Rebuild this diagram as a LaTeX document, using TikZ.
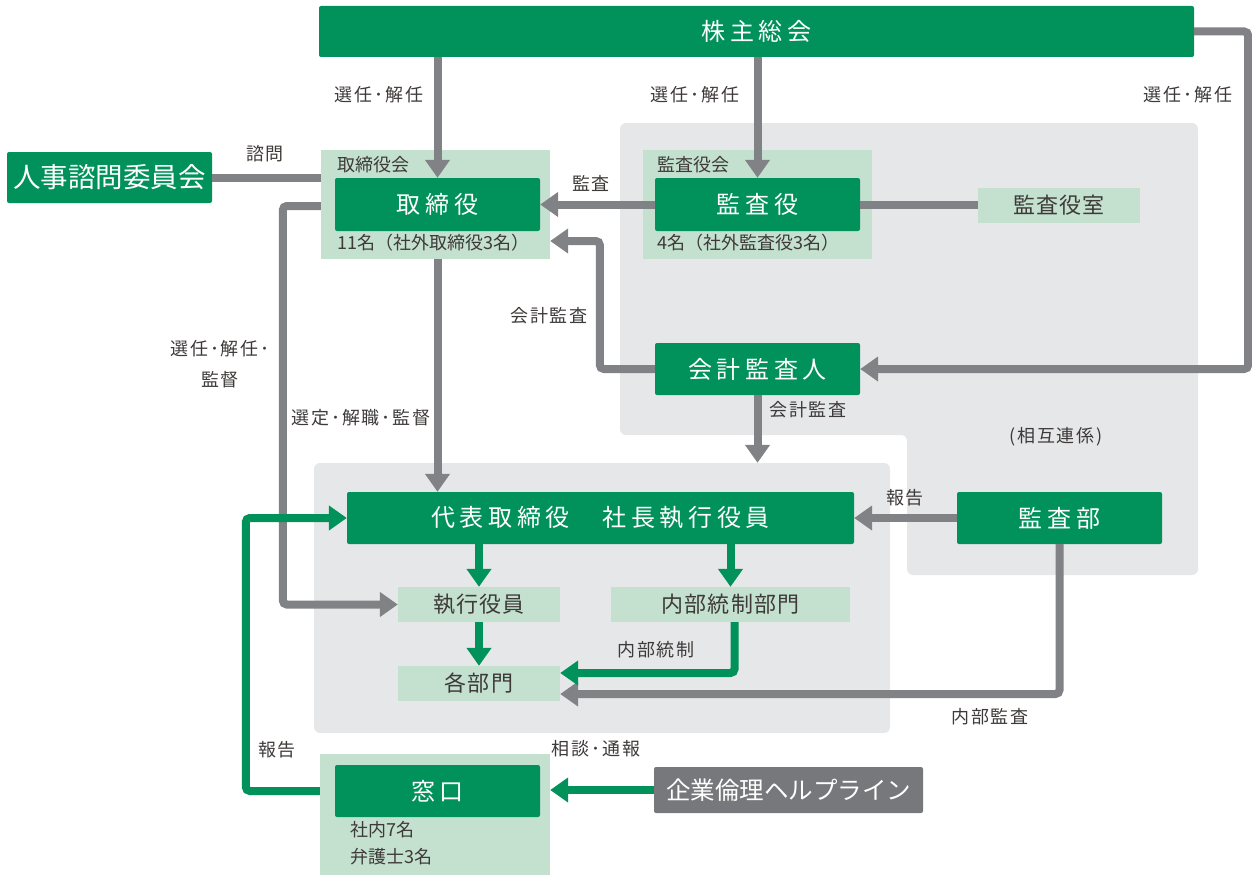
\documentclass[tikz,border=0pt]{standalone}
\usepackage{fontspec}
\setmainfont{Noto Sans CJK JP}
\newfontfamily\spc[LetterSpace=19]{Noto Sans CJK JP}
\newfontfamily\spb[LetterSpace=5]{Noto Sans CJK JP}
\newfontfamily\spl[LetterSpace=10]{Noto Sans CJK JP}
\usetikzlibrary{arrows.meta,calc}
\definecolor{dkg}{HTML}{00925A}
\definecolor{ltg}{HTML}{C4E1CF}
\definecolor{bgg}{HTML}{E6E7E8}
\definecolor{lng}{HTML}{808285}
\definecolor{hlp}{HTML}{77787B}
\definecolor{txt}{HTML}{3E3A39}
\begin{document}
\begin{tikzpicture}[x=1pt,y=-1pt,
  sz/.style 2 args={minimum width=#1, minimum height=#2},
  dk/.style={fill=dkg, text=white, rounded corners=2pt, inner sep=0pt, font=\spc\fontsize{24}{28}\selectfont},
  lt/.style={fill=ltg, text=txt, inner sep=0pt, font=\spb\fontsize{22}{26}\selectfont},
  lbl/.style={text=txt, inner sep=0pt, font=\spl\fontsize{18}{21}\selectfont},
  sub/.style={text=txt, inner sep=0pt, anchor=west, font=\fontsize{18}{21}\selectfont},
  gl/.style={draw=lng, line width=8pt, rounded corners=4pt},
  ga/.style={gl, -{Triangle[width=24pt,length=18pt]}},
  gg/.style={draw=dkg, line width=8pt, rounded corners=4pt, -{Triangle[width=24pt,length=18pt]}}]
\useasboundingbox (0,0) rectangle (1252,875);
% backgrounds
\fill[bgg, rounded corners=6pt] (620,123) -- (1198,123) -- (1198,575) -- (907,575) -- (907,435) -- (620,435) -- cycle;
\node[fill=bgg, rounded corners=6pt, inner sep=0pt, sz={576pt}{270pt}] (opbg) at (602,598) {};
% light boxes
\node[fill=ltg, inner sep=0pt, sz={229pt}{109pt}] (torikai) at (435.5,204.5) {};
\node[fill=ltg, inner sep=0pt, sz={229pt}{109pt}] (kansakai) at (757.5,204.5) {};
\node[fill=ltg, inner sep=0pt, sz={230pt}{121pt}] (madol) at (435,814.5) {};
\node[sub] (t1) at (337,165) {取締役会};
\node[sub] (t2) at (337,243) {11名（社外取締役3名）};
\node[sub] (k1) at (657,165) {監査役会};
\node[sub] (k2) at (657,243) {4名（社外監査役3名）};
\node[sub] (m1) at (350,830) {社内7名};
\node[sub] (m2) at (350,857) {弁護士3名};
\node[lt, sz={162pt}{35pt}] (shitsu) at (1059,205.5) {監査役室};
\node[lt, sz={162pt}{35pt}] (shikko) at (479,604.5) {執行役員};
\node[lt, sz={239pt}{35pt}] (naibu) at (730.5,604.5) {内部統制部門};
\node[lt, sz={162pt}{35pt}] (kakubu) at (479,683.5) {各部門};
% dark boxes
\node[dk, sz={875pt}{51pt}] (kabu) at (756.5,31.5) {株主総会};
\node[dk, sz={205pt}{51pt}, font=\fontsize{27.5}{31}\selectfont] (jinji) at (109.5,177.5) {人事諮問委員会};
\node[dk, sz={205pt}{53pt}] (tori) at (437.5,204.5) {取締役};
\node[dk, sz={205pt}{53pt}] (kansa) at (757.5,204.5) {監査役};
\node[dk, sz={205pt}{52pt}] (kaikei) at (757.5,369) {会計監査人};
\node[dk, sz={507pt}{52pt}] (daihyo) at (600.5,518) {代表取締役　社長執行役員};
\node[dk, sz={205pt}{52pt}] (kansabu) at (1059.5,518) {監査部};
\node[dk, sz={205pt}{52pt}] (mado) at (437.5,791) {窓口};
\node[dk, fill=hlp, sz={269pt}{46pt}, font=\fontsize{24.5}{28}\selectfont] (help) at (788.5,790) {企業倫理ヘルプライン};
% connectors
\draw[ga] (kabu.south -| tori.north) -- (tori.north);
\draw[ga] (kabu.south -| kansa.north) -- (kansa.north);
\draw[ga] (kabu.east) -- ++(54,0) |- (kaikei.east);
\draw[ga] (kansa.west) -- (tori.east);
\draw[gl] (kansa.east) -- (kansa.east -| shitsu.west);
\draw[gl] (jinji.east) -- (jinji.east -| torikai.west);
\draw[ga] (kaikei.west) -- ++(-55,0) |- ([yshift=-36.5pt]torikai.east);
\draw[ga] (kaikei.south) -- (kaikei.south |- opbg.north);
\draw[ga] (torikai.south -| tori.south) -- (daihyo.north -| tori.south);
\draw[ga] ([yshift=-1.5pt]torikai.west) -- ++(-38,0) |- (shikko.west);
\draw[ga] (kansabu.west) -- (daihyo.east);
\draw[ga] (kansabu.south) |- ([yshift=-10.5pt]kakubu.east);
\draw[gg] (daihyo.south -| shikko.north) -- (shikko.north);
\draw[gg] (daihyo.south -| naibu.north) -- (naibu.north);
\draw[gg] (shikko.south) -- (kakubu.north);
\draw[gg] ([xshift=4pt]naibu.south) |- ([yshift=10.5pt]kakubu.east);
\draw[gg] (help.west) -- (help.west -| madol.east);
\draw[gg] (mado.west -| madol.west) -- ++(-74,0) |- (daihyo.west);
% labels
\node[lbl] (l1) at (379,95) {選任･解任};
\node[lbl] (l2) at (695,95) {選任･解任};
\node[lbl] (l3) at (1188,95) {選任･解任};
\node[lbl] (l4) at (265,154) {諮問};
\node[lbl] (l5) at (591,183) {監査};
\node[lbl] (l6) at (549,316) {会計監査};
\node[lbl] (l7) at (808,410) {会計監査};
\node[lbl, align=center, font=\spl\fontsize{18}{31}\selectfont] (l8) at (220,364) {選任･解任･\\監督};
\node[lbl] (l9) at (361,418) {選定･解職･監督};
\node[lbl] (l10) at (1056,437) {(相互連係)};
\node[lbl] (l11) at (905,498) {報告};
\node[lbl] (l12) at (656,650) {内部統制};
\node[lbl] (l13) at (990,717) {内部監査};
\node[lbl] (l14) at (596,749) {相談･通報};
\node[lbl] (l15) at (277,750) {報告};
\end{tikzpicture}
\end{document}
